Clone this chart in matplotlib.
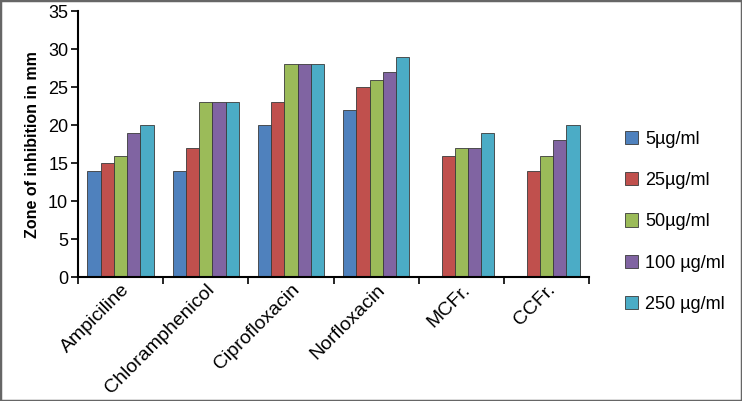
import numpy as np
import matplotlib.pyplot as plt
from matplotlib.patches import Rectangle

plt.rcParams['font.family'] = ['Liberation Sans', 'DejaVu Sans']

drugs = ['Ampiciline', 'Chloramphenicol', 'Ciprofloxacin', 'Norfloxacin', 'MCFr.', 'CCFr.']
doses = ['5µg/ml', '25µg/ml', '50µg/ml', '100 µg/ml', '250 µg/ml']
zone_5 = [14, 14, 20, 22, np.nan, np.nan]
zone_25 = [15, 17, 23, 25, 16, 14]
zone_50 = [16, 23, 28, 26, 17, 16]
zone_100 = [19, 23, 28, 27, 17, 18]
zone_250 = [20, 23, 28, 29, 19, 20]
y_ticks = [0, 5, 10, 15, 20, 25, 30, 35]

colors = ['#4F81BD', '#C0504D', '#9BBB59', '#8064A2', '#4BACC6']
series = [zone_5, zone_25, zone_50, zone_100, zone_250]

fig = plt.figure(figsize=(7.42, 4.01), dpi=100)
ax = fig.add_axes([0.105, 0.309, 0.689, 0.663])

x = np.arange(len(drugs))
w = 0.155
for i, (vals, col, lab) in enumerate(zip(series, colors, doses)):
    ax.bar(x + (i - 2) * w, vals, width=w, color=col, edgecolor='#3a3a3a',
           linewidth=0.6, label=lab)

ax.set_xlim(-0.5, len(drugs) - 0.5)
ax.set_ylim(0, 35)
ax.set_yticks(y_ticks)
ax.tick_params(axis='y', labelsize=13, length=5, width=1.2, pad=2)

# group labels in the middle, ticks on the boundaries
ax.set_xticks(x)
ax.set_xticklabels(drugs, rotation=45, ha='right', rotation_mode='anchor', fontsize=14)
ax.tick_params(axis='x', which='major', length=0, pad=3)
ax.set_xticks(np.arange(-0.5, len(drugs)), minor=True)
ax.tick_params(axis='x', which='minor', length=5, width=1.2)
for lbl in ax.get_xticklabels():
    lbl.set_x(lbl.get_position()[0] + 0.3)

ax.set_ylabel('Zone of inhibition in mm', fontsize=11.5, fontweight='bold', labelpad=6)
for s in ['top', 'right']:
    ax.spines[s].set_visible(False)
for s in ['left', 'bottom']:
    ax.spines[s].set_linewidth(1.5)

fig.legend(loc='upper left', bbox_to_anchor=(0.82, 0.715), frameon=False,
           fontsize=13, handlelength=0.75, handleheight=0.75, labelspacing=1.35,
           handletextpad=0.4)

fig.patches.append(Rectangle((0, 0), 1, 1, transform=fig.transFigure, fill=False,
                             edgecolor='#666666', linewidth=2.5))

fig.savefig('out.png', dpi=100)
